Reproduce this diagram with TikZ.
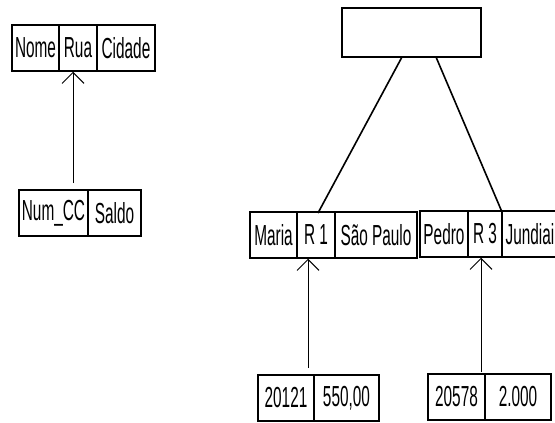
\documentclass[tikz,border=0pt]{standalone}
\usepackage{fontspec}
\setmainfont{Liberation Sans}
\newfontfamily\narrowfont[FakeStretch=0.53]{Liberation Sans}
\usetikzlibrary{arrows.meta}

\tikzset{
  cell/.style={draw, line width=1.5pt, inner sep=0pt, minimum height=46pt,
    font=\narrowfont\fontsize{29}{29}\selectfont},
  link/.style={line width=1.6pt},
  ref/.style={-{Straight Barb[length=11pt,width=22pt]}, line width=1pt}
}

\begin{document}
\begin{tikzpicture}[x=1pt,y=-1pt]
\useasboundingbox (0,0) rectangle (555,423);

% schema
\node[cell, minimum width=47pt] (nome) at (35.5,48) {Nome};
\node[cell, minimum width=38pt] (rua) at (78,48) {Rua};
\node[cell, minimum width=58pt] (cidade) at (126,48) {Cidade};
\node[cell, minimum width=69pt] (numcc) at (53.5,213) {Num\_CC};
\node[cell, minimum width=53pt] (saldo) at (114.5,213) {Saldo};
\coordinate (numtop) at (73,183);
\draw[ref] (numtop) -- (numtop |- rua.south);

% instances
\node[cell, minimum width=139pt, minimum height=49pt] (root) at (411.5,32.5) {};
\node[cell, minimum width=47pt] (maria) at (273.5,235) {Maria};
\node[cell, minimum width=38pt] (r1) at (316,235) {R 1};
\node[cell, minimum width=82pt] (sp) at (376,235) {São Paulo};
\node[cell, minimum width=48pt] (pedro) at (444,234) {Pedro};
\node[cell, minimum width=34pt] (r3) at (485,234) {R 3};
\node[cell, minimum width=56pt] (jund) at (530,234) {Jundiai};

\coordinate (rootl) at (402,57);
\coordinate (rootr) at (436,57);
\draw[link] (rootl) -- (318,213);
\draw[link] (rootr) -- (502,212);

\node[cell, minimum width=56pt] (c1) at (286,398) {20121};
\node[cell, minimum width=65pt] (s1) at (346.5,398) {550,00};
\node[cell, minimum width=57pt] (c2) at (456.5,397) {20578};
\node[cell, minimum width=66pt] (s2) at (518,397) {2.000};

\coordinate (c1top) at (308,368);
\coordinate (c2top) at (481,372);
\draw[ref] (c1top) -- (c1top |- maria.south);
\draw[ref] (c2top) -- (c2top |- pedro.south);
\end{tikzpicture}
\end{document}
